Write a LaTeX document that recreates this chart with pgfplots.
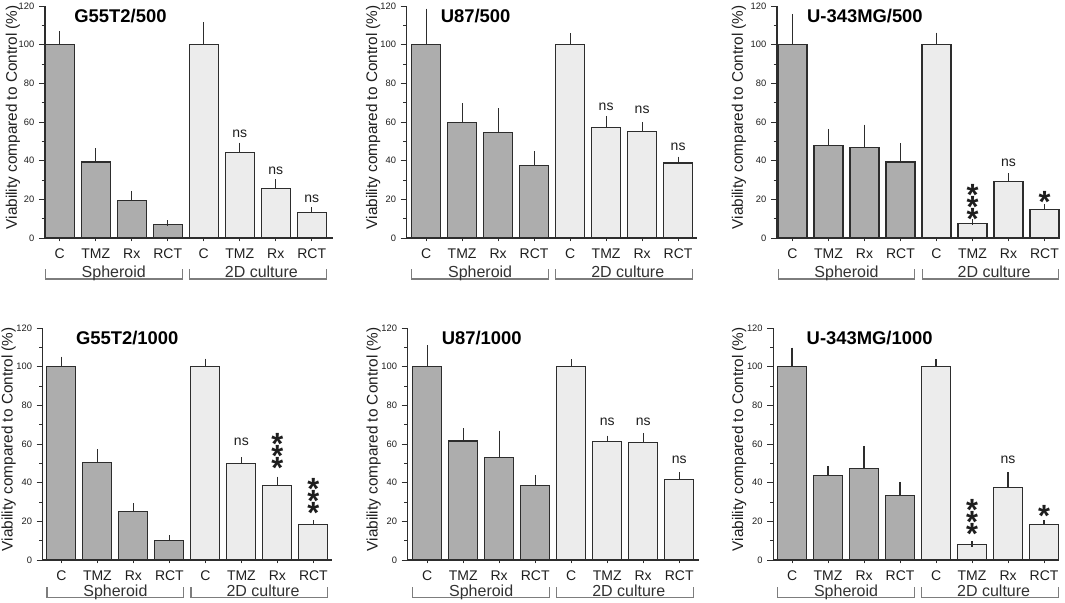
\documentclass[border=0pt]{standalone}
\usepackage{fontspec}
\setmainfont{Liberation Sans}
\usepackage{pgfplots}
\pgfplotsset{compat=1.18}

\definecolor{darkbar}{RGB}{173,173,173}
\definecolor{lightbar}{RGB}{236,236,236}
\definecolor{edge}{RGB}{45,45,45}
\definecolor{txt}{RGB}{30,30,30}
\definecolor{brk}{RGB}{125,125,125}
\definecolor{lbl}{RGB}{50,50,50}

\pgfplotsset{
  panel/.style={
    x=27pt, y=1.45pt,
    ymin=0, ymax=120,
    clip=false,
    axis x line*=bottom, axis y line*=left,
    axis line style={draw=edge, line width=0.8pt},
    ytick={0,20,...,120}, minor ytick={10,30,...,110},
    xtick={0,...,7},
    xticklabels={C,TMZ,Rx,RCT,C,TMZ,Rx,RCT},
    tick align=outside,
    major tick length=4.5pt, minor tick length=2.5pt,
    tick style={draw=edge, line width=0.7pt},
    xtick style={/pgfplots/major tick length=2.5pt},
    /pgf/number format/assume math mode=true,
    yticklabel style={font=\fontsize{7}{8}\selectfont, text=txt},
    xticklabel style={font=\fontsize{10.5}{12}\selectfont, text=txt},
    ylabel={Viability compared to Control (\%)},
    ylabel style={font=\fontsize{11.5}{13}\selectfont, text=txt, anchor=center},
  },
  ylab/.style={ylabel style={at={(axis description cs:#1,0.52)}}},
  sph/.style={ybar, bar width=21.75pt, bar shift=0pt, fill=darkbar, draw=edge, line width=0.9pt,
    error bars/.cd, y dir=plus, y explicit,
    error bar style={line width=0.9pt, draw=edge},
    error mark options={line width=0.9pt, mark size=2pt, draw=edge}},
  twod/.style={ybar, bar width=21.75pt, bar shift=0pt, fill=lightbar, draw=edge, line width=0.9pt,
    error bars/.cd, y dir=plus, y explicit,
    error bar style={line width=0.9pt, draw=edge},
    error mark options={line width=0.9pt, mark size=2pt, draw=edge}},
}

\newcommand\brackets[2]{%
  \draw[brk, line width=0.8pt] (axis cs:-0.4,#2) -- (axis cs:-0.4,#1) -- (axis cs:3.4,#1) -- (axis cs:3.4,#2);
  \draw[brk, line width=0.8pt] (axis cs:3.6,#2) -- (axis cs:3.6,#1) -- (axis cs:7.4,#1) -- (axis cs:7.4,#2);
  \node[anchor=base, inner sep=0pt, font=\fontsize{12}{14}\selectfont, text=lbl, yshift=1.2pt] at (axis cs:1.5,#1) {Spheroid};
  \node[anchor=base, inner sep=0pt, font=\fontsize{12}{14}\selectfont, text=lbl, yshift=1.2pt] at (axis cs:5.6,#1) {2D culture};
}
\newcommand\ttl[1]{\node[anchor=west, inner sep=0pt, font=\bfseries\fontsize{13.8}{15}\selectfont, text=black] at (axis cs:0.4,115) {#1};}
\newcommand\ns[2]{\node[inner sep=0pt, font=\fontsize{10.5}{12}\selectfont, text=txt] at (axis cs:#1,#2) {ns};}
% one asterisk, centred on (#1,#2)
\newcommand\ak[2]{\node[anchor=base, inner sep=0pt, font=\bfseries\fontsize{23}{23}\selectfont, text=txt] at (axis cs:#1,#2) {\raisebox{-0.57em}{*}};}
% three stacked asterisks; #2 = centre of the stack minus 3.5 units
\newcommand\akkk[2]{\node[inner sep=0pt, font=\bfseries\fontsize{23}{9}\selectfont, text=txt] at (axis cs:#1,#2) {\vbox{\baselineskip=9pt\lineskiplimit=-100pt\lineskip=0pt\hbox{*}\hbox{*}\hbox{*}}};}

\begin{document}
\begin{tikzpicture}
\useasboundingbox (0,0) rectangle (798.75pt,452.25pt);

% ---------- G55T2/500
\begin{axis}[panel, ylab=-0.111, xmin=-0.41, xmax=7.59, at={(33.75pt,273.75pt)}, anchor=south west]
\addplot[sph] coordinates {(0,100) +- (0,5.6) (1,39.3) +- (0,5.7) (2,19.6) +- (0,3.4) (3,6.8) +- (0,1.0)};
\addplot[twod] coordinates {(4,100) +- (0,10.3) (5,44.3) +- (0,3.7) (6,25.6) +- (0,3.3) (7,13.0) +- (0,1.4)};
\ttl{G55T2/500}
\ns{5}{53.7}\ns{6}{34.6}\ns{7}{20.3}
\brackets{-21.2}{-16.1}
\end{axis}

% ---------- U87/500
\begin{axis}[panel, ylab=-0.115, xmin=-0.54, xmax=7.53, at={(305pt,273.75pt)}, anchor=south west]
\addplot[sph] coordinates {(0,100) +- (0,17.2) (1,59.6) +- (0,8.8) (2,54.7) +- (0,11.1) (3,37.6) +- (0,6.0)};
\addplot[twod] coordinates {(4,100) +- (0,4.4) (5,57.3) +- (0,4.5) (6,55.2) +- (0,3.5) (7,38.8) +- (0,1.9)};
\ttl{U87/500}
\ns{5}{68.1}\ns{6}{66.1}\ns{7}{47.3}
\brackets{-21.2}{-16.1}
\end{axis}

% ---------- U-343MG/500
\begin{axis}[panel, ylab=-0.135, xmin=-0.43, xmax=7.42, at={(582.75pt,273.75pt)}, anchor=south west]
\addplot[sph] coordinates {(0,100) +- (0,14.5) (1,47.9) +- (0,7.1) (2,46.7) +- (0,10.5) (3,39.3) +- (0,8.4)};
\addplot[twod] coordinates {(4,100) +- (0,4.8) (5,7.6) +- (0,0.7) (6,29.1) +- (0,3.1) (7,14.7) +- (0,1.4)};
\ttl{U-343MG/500}
\akkk{5}{16.3}
\ns{6}{38.7}
\ak{7}{22.0}
\brackets{-21.2}{-16.1}
\end{axis}

% ---------- G55T2/1000
\begin{axis}[panel, ylab=-0.117, xmin=-0.52, xmax=7.53, at={(32pt,32.25pt)}, anchor=south west]
\addplot[sph] coordinates {(0,100) +- (0,3.8) (1,50.4) +- (0,5.4) (2,25.0) +- (0,3.1) (3,10.0) +- (0,1.4)};
\addplot[twod] coordinates {(4,100) +- (0,2.8) (5,49.8) +- (0,1.9) (6,38.7) +- (0,3.0) (7,18.3) +- (0,1.0)};
\ttl{G55T2/1000}
\ns{5}{61.0}
\akkk{6}{53.7}
\akkk{7}{30.6}
\brackets{-19.5}{-14.2}
\end{axis}

% ---------- U87/1000
\begin{axis}[panel, ylab=-0.117, xmin=-0.54, xmax=7.54, at={(305.8pt,32.25pt)}, anchor=south west]
\addplot[sph] coordinates {(0,100) +- (0,9.7) (1,61.6) +- (0,5.2) (2,53.0) +- (0,12.6) (3,38.7) +- (0,3.8)};
\addplot[twod] coordinates {(4,100) +- (0,2.4) (5,61.1) +- (0,1.9) (6,60.8) +- (0,3.6) (7,41.8) +- (0,2.3)};
\ttl{U87/1000}
\ns{5}{71.3}\ns{6}{71.3}\ns{7}{51.8}
\brackets{-19.5}{-14.2}
\end{axis}

% ---------- U-343MG/1000
\begin{axis}[panel, ylab=-0.12, xmin=-0.52, xmax=7.41, at={(580pt,32.25pt)}, anchor=south west]
\addplot[sph] coordinates {(0,100) +- (0,8.5) (1,43.9) +- (0,3.4) (2,47.5) +- (0,10.2) (3,33.2) +- (0,5.8)};
\addplot[twod] coordinates {(4,100) +- (0,2.4) (5,7.9) +- (0,0.4) (6,37.7) +- (0,6.3) (7,18.3) +- (0,1.0)};
\ttl{U-343MG/1000}
\akkk{5}{19.5}
\ns{6}{52.0}
\ak{7}{26.6}
\brackets{-19.5}{-14.2}
\end{axis}
\end{tikzpicture}
\end{document}
